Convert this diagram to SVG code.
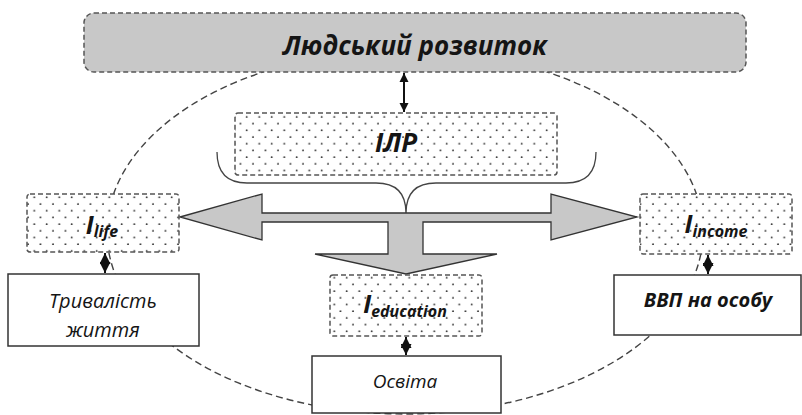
<svg xmlns="http://www.w3.org/2000/svg" width="802" height="415" viewBox="0 0 802 415">
<defs>
<pattern id="dots" x="0" y="0" width="12.5" height="13.4" patternUnits="userSpaceOnUse">
<rect width="12.5" height="13.4" fill="#ffffff"/>
<circle cx="3" cy="3" r="0.9" fill="#222"/>
<circle cx="9.25" cy="9.7" r="0.9" fill="#222"/>
</pattern>
<marker id="ah" viewBox="0 0 10 10" refX="10" refY="5" markerWidth="9" markerHeight="12" markerUnits="userSpaceOnUse" orient="auto-start-reverse">
<path d="M0,0 L10,5 L0,10 z" fill="#111"/>
</marker>
<marker id="sh" viewBox="0 0 10 10" refX="10" refY="5" markerWidth="11" markerHeight="11" markerUnits="userSpaceOnUse" orient="auto-start-reverse">
<path d="M0,0 L10,5 L0,10 z" fill="#111"/>
</marker>
</defs>
<style>
.t{font-family:"Open Sans","Noto Sans","DejaVu Sans",sans-serif;fill:#151515;font-style:italic}
.b{font-weight:bold}
.dash{stroke:#555;stroke-width:1.5;stroke-dasharray:5 3}
.idx{fill:url(#dots)}
.plain{fill:#fff;stroke:#333;stroke-width:1.5}
.conn{stroke:#111;stroke-width:2;fill:none}
</style>
<g id="ellipse">
<ellipse cx="405" cy="232" rx="298" ry="182" fill="none" stroke="#444" stroke-width="1.4" stroke-dasharray="7 4"/>
</g>
<g id="top">
<rect x="84" y="13" width="662" height="59" rx="10" fill="#c8c8c8" class="dash"/>
<text class="t b" x="415" y="55" font-size="26" text-anchor="middle">Людський розвиток</text>
</g>
<g id="ilr">
<rect x="235" y="113" width="322" height="62" rx="3" class="idx dash"/>
<text class="t b" x="396" y="152" font-size="26" text-anchor="middle">ІЛР</text>
</g>
<g id="brace">
<path d="M217,152 Q217,183 247,183 L376,183 Q406,183 406,213 Q406,183 436,183 L566,183 Q596,183 596,152" fill="none" stroke="#444" stroke-width="1.3"/>
</g>
<g id="bigarrow">
<polygon points="180,217 262,194 262,213 551,213 551,194 637,217 551,240 551,222 423,222 423,254 497,254 406,274 315,254 388,254 388,222 262,222 262,240" fill="#c8c8c8" stroke="#333" stroke-width="1.3" stroke-linejoin="miter"/>
</g>
<g id="ilife">
<rect x="27" y="194" width="152" height="58" rx="3" class="idx dash"/>
<text class="t b" x="102" y="234" font-size="25" text-anchor="middle">I<tspan font-size="16" dy="3">life</tspan></text>
</g>
<g id="iincome">
<rect x="640" y="194" width="152" height="60" rx="3" class="idx dash"/>
<text class="t b" x="716" y="233" font-size="25" text-anchor="middle">I<tspan font-size="16" dy="4">income</tspan></text>
</g>
<g id="ieducation">
<rect x="330" y="275" width="152" height="61" rx="3" class="idx dash"/>
<text class="t b" x="405" y="313" font-size="25" text-anchor="middle">I<tspan font-size="16" dy="4">education</tspan></text>
</g>
<g id="life">
<rect x="8" y="274" width="191" height="72" class="plain"/>
<text class="t" x="103" y="308" font-size="20" text-anchor="middle">Тривалість</text>
<text class="t" x="103" y="337" font-size="20" text-anchor="middle">життя</text>
</g>
<g id="gdp">
<rect x="614" y="275" width="187" height="60" class="plain"/>
<text class="t b" x="708" y="307" font-size="20" text-anchor="middle">ВВП на особу</text>
</g>
<g id="edu">
<rect x="312" y="356" width="189" height="57" class="plain"/>
<text class="t" x="405" y="388" font-size="19" text-anchor="middle">Освіта</text>
</g>
<g id="connectors">
<line x1="404" y1="73" x2="404" y2="112" class="conn" marker-start="url(#ah)" marker-end="url(#ah)"/>
<line x1="105" y1="253" x2="105" y2="273" class="conn" marker-start="url(#sh)" marker-end="url(#sh)"/>
<line x1="708" y1="255" x2="708" y2="274" class="conn" marker-start="url(#sh)" marker-end="url(#sh)"/>
<line x1="406" y1="337" x2="406" y2="355" class="conn" marker-start="url(#sh)" marker-end="url(#sh)"/>
</g>
</svg>
